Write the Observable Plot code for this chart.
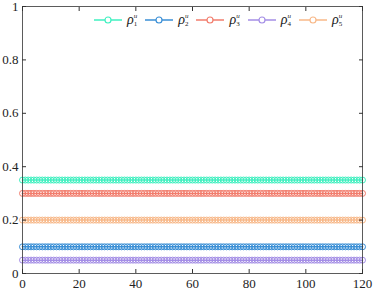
<!DOCTYPE html>
<html><head><meta charset="utf-8">
<script src="https://cdn.jsdelivr.net/npm/d3@7"></script>
<script src="https://cdn.jsdelivr.net/npm/@observablehq/plot@0.6"></script>
<style>
body{margin:0;background:#fff;}
#wrap{position:relative;width:374px;height:293px;}
#chart svg{font-family:"Liberation Serif","DejaVu Serif",serif !important;}
#chart svg text{font-family:"Liberation Serif","DejaVu Serif",serif;}
#legend{position:absolute;left:94px;top:12px;display:flex;align-items:center;font-family:"Liberation Serif","DejaVu Serif",serif;font-size:14px;color:#222;}
.item{display:flex;align-items:center;margin-right:8px;}
.lab{display:inline-flex;align-items:center;margin-left:5px;}
.ss{display:inline-flex;flex-direction:column;font-size:7px;line-height:8px;margin-left:0px;font-style:italic;}
.ss span{display:block;height:8px;}
.ss span:last-child{font-style:normal;}
</style></head>
<body><div id="wrap"><div id="chart"></div><div id="legend"></div></div>
<script>
const seriesNames = ["1","2","3","4","5"];
const seriesValues = [0.35, 0.10, 0.30, 0.05, 0.20];
const seriesColors = ["#3ff0c0","#3a8fd6","#f27c6c","#a48ee6","#f8b888"];
const steps = d3.range(0, 121);
const xTicks = [0,20,40,60,80,100,120];
const yTicks = [0,0.2,0.4,0.6,0.8,1];

const data = [];
seriesNames.forEach((s,i)=>steps.forEach(t=>data.push({series:s, t, v:seriesValues[i]})));

const fmt = d => d===0?"0":d===1?"1":String(d);
const chart = Plot.plot({
  width:374, height:293,
  marginLeft:22, marginRight:12, marginTop:6, marginBottom:20,
  style:{fontSize:"13px", color:"#222", background:"#fff"},
  x:{domain:[0,120]},
  y:{domain:[0,1]},
  color:{domain:seriesNames, range:seriesColors},
  marks:[
    Plot.line(data,{x:"t",y:"v",z:"series",stroke:"series",strokeWidth:1.5}),
    Plot.dot(data,{x:"t",y:"v",stroke:"series",r:3,strokeWidth:1,fill:"none"}),
    Plot.frame({stroke:"#333",strokeWidth:0.8}),
    Plot.axisX(xTicks,{anchor:"bottom",tickSize:0,tickPadding:5,tickFormat:fmt,label:null,fontSize:13}),
    Plot.axisX(xTicks,{anchor:"bottom",tickSize:-4,text:null,label:null,stroke:"#333"}),
    Plot.axisX(xTicks,{anchor:"top",tickSize:-4,text:null,label:null,stroke:"#333"}),
    Plot.axisY(yTicks,{anchor:"left",tickSize:0,tickPadding:4,tickFormat:fmt,label:null,fontSize:13}),
    Plot.axisY(yTicks,{anchor:"left",tickSize:-4,text:null,label:null,stroke:"#333"}),
    Plot.axisY(yTicks,{anchor:"right",tickSize:-4,text:null,label:null,stroke:"#333"})
  ]
});
document.getElementById("chart").appendChild(chart);

const leg = document.getElementById("legend");
seriesNames.forEach((s,i)=>{
  const it = document.createElement("div"); it.className="item";
  it.innerHTML = `<svg width="28" height="10"><line x1="0" x2="28" y1="5" y2="5" stroke="${seriesColors[i]}" stroke-width="1.5"/><circle cx="14" cy="5" r="3" fill="#fff" stroke="${seriesColors[i]}" stroke-width="1.2"/></svg><span class="lab"><i>ρ</i><span class="ss"><span>u</span><span>${s}</span></span></span>`;
  leg.appendChild(it);
});
</script></body></html>
